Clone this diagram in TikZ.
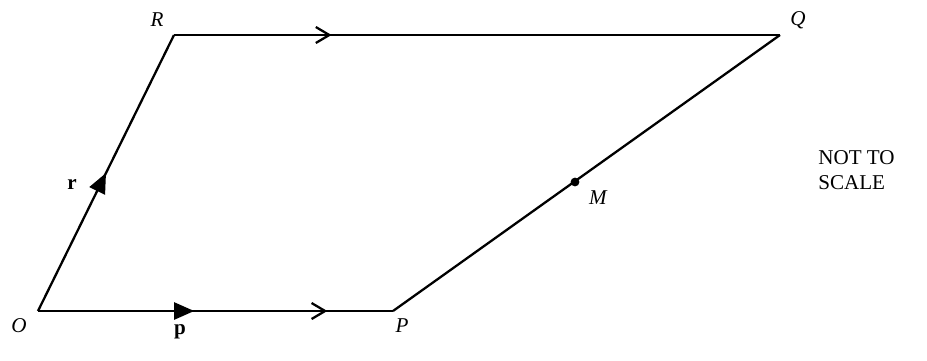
\documentclass[tikz,border=0pt]{standalone}
\usepackage{fontspec}
\setmainfont{Liberation Serif}
\usetikzlibrary{arrows.meta,positioning,decorations.markings}

\begin{document}
\begin{tikzpicture}[
    x=0.02cm, y=-0.02cm,
    side/.style={line width=1.3pt},
    lbl/.style={font=\fontsize{12}{14}\selectfont\itshape, inner sep=0pt},
    vec/.style={font=\fontsize{12}{14}\selectfont\bfseries, inner sep=0pt},
    solidtip/.style={postaction={decorate, decoration={markings,
        mark=at position #1 with {\arrow{Triangle[length=0.4cm,width=0.34cm]}}}}},
    opentip/.style={postaction={decorate, decoration={markings,
        mark=at position #1 with {\arrow{Straight Barb[length=0.27cm,width=0.32cm,line width=1.3pt]}}}}}
]
\useasboundingbox (0,0) rectangle (927,360);

% vertices of the parallelogram
\coordinate (O) at (38,311);
\coordinate (P) at (393,311);
\coordinate (Q) at (780,35);
\coordinate (R) at (174,35);
\coordinate (M) at (575,182);

% sides
\draw[side, solidtip=0.5] (O) -- (R);
\draw[side, solidtip=0.44, opentip=0.815] (O) -- (P);
\draw[side, opentip=0.26] (R) -- (Q);
\draw[side] (P) -- (Q);
\fill (M) circle (4.4);

% labels
\node[lbl] (lO) at (19,326) {O};
\node[lbl] (lP) at (402,326) {P};
\node[lbl] (lQ) at (798,20) {Q};
\node[lbl] (lR) at (157,20) {R};
\node[lbl] (lM) at (598,198) {M};
\node[vec] (lp) at (180,332) {p};
\node[vec] (lr) at (72,184) {r};

\node[font=\fontsize{12}{14.5}\selectfont, align=left, anchor=west, inner sep=0pt] (note) at (818,170) {NOT TO\\SCALE};
\end{tikzpicture}
\end{document}
